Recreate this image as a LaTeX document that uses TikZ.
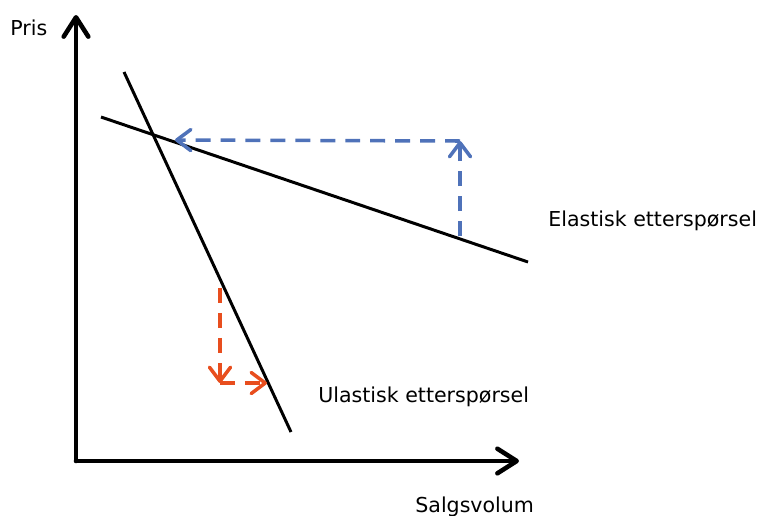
\documentclass[tikz,border=0pt]{standalone}
\usepackage{fontspec}
\setmainfont{DejaVu Sans}
\usetikzlibrary{arrows.meta}
\definecolor{pilblaa}{RGB}{79,114,185}
\definecolor{pilrod}{RGB}{232,78,30}
\begin{document}
\begin{tikzpicture}[x=0.02cm, y=-0.02cm,
    akse/.style={line width=2.6pt, line cap=round, -{Straight Barb[length=11pt, width=14pt, round]}},
    kurve/.style={line width=1.7pt},
    skift/.style={line width=2pt, dash pattern=on 8.5pt off 5.7pt, -{Straight Barb[length=8pt, width=12pt, round]}},
    etikett/.style={font=\fontsize{11.7}{14}\selectfont, inner sep=0pt}]
    \useasboundingbox (0,0) rectangle (759,515);

    % akser
    \coordinate (origo) at (76,461);
    \coordinate (ytopp) at (76,15);
    \coordinate (xende) at (519,461);
    \draw[akse] (origo) -- (ytopp);
    \draw[akse] (origo) -- (xende);
    \node[etikett, anchor=base west] (pris) at (10,35) {Pris};
    \node[etikett, anchor=base west] (volum) at (415,512) {Salgsvolum};

    % etterspørselskurver
    \coordinate (u1) at (124,72);
    \coordinate (u2) at (291,432);
    \coordinate (e1) at (101,117);
    \coordinate (e2) at (528,262);
    \draw[kurve] (u1) -- (u2);
    \draw[kurve] (e1) -- (e2);
    \node[etikett, anchor=base west] (elastisk) at (548,226) {Elastisk etterspørsel};
    \node[etikett, anchor=base west] (ulastisk) at (318,402) {Ulastisk etterspørsel};

    % prisendring, elastisk
    \coordinate (b1) at (460,236);
    \coordinate (b2) at (460,141);
    \coordinate (b3) at (175,140);
    \draw[skift, pilblaa] (b1) -- (b2);
    \draw[skift, pilblaa] (b2) -- (b3);

    % prisendring, ulastisk
    \coordinate (r1) at (220,288);
    \coordinate (r2) at (220,383);
    \coordinate (r3) at (267,383);
    \draw[skift, pilrod] (r1) -- (r2);
    \draw[skift, pilrod] (r2) -- (r3);
\end{tikzpicture}
\end{document}
